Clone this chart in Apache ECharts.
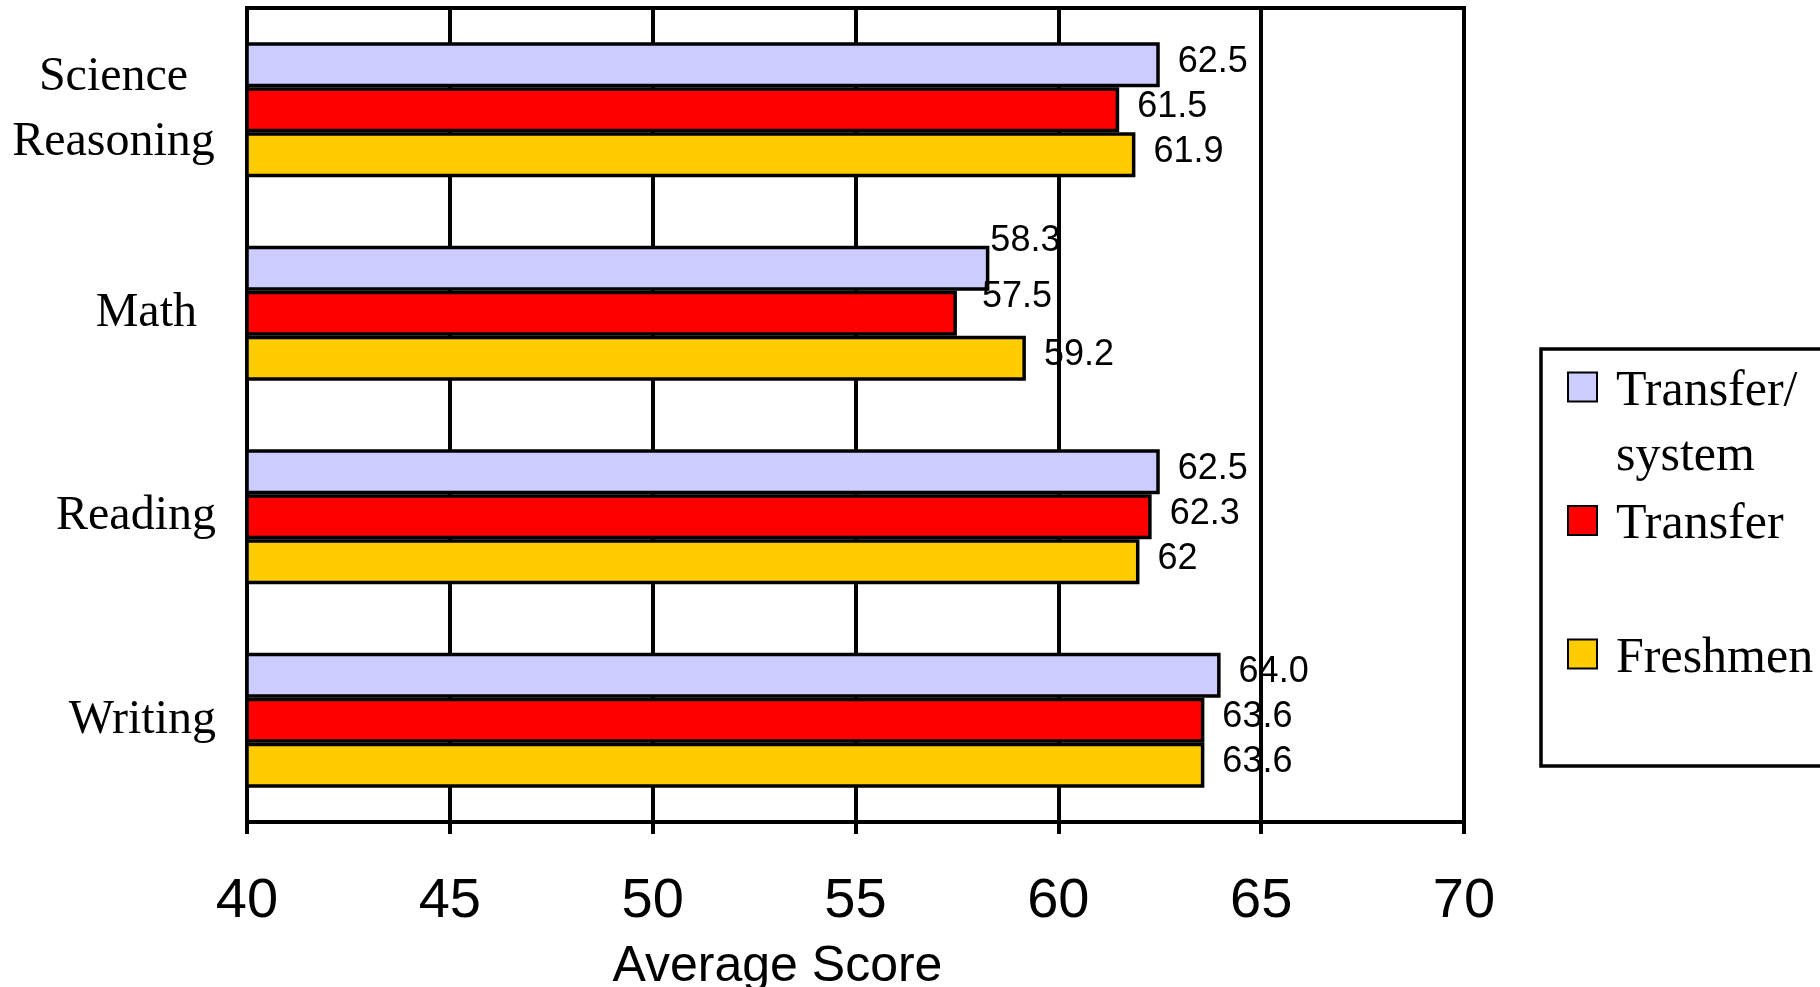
<!DOCTYPE html>
<html>
<head>
<meta charset="utf-8">
<script src="https://cdn.jsdelivr.net/npm/echarts@6/dist/echarts.min.js"></script>
<style>
  html, body { margin: 0; padding: 0; background: #fff; }
  #chart { width: 1820px; height: 987px; }
</style>
</head>
<body>
<div id="chart"></div>
<script>
// Test areas, top to bottom
const categories = ['Science\nReasoning', 'Math', 'Reading', 'Writing'];

// Series names as shown in the legend
const seriesNames = ['Transfer/system', 'Transfer', 'Freshmen'];

// Average scores per group (kept as printed on the labels)
const transferSystemScores = ['62.5', '58.3', '62.5', '64.0'];
const transferScores = ['61.5', '57.5', '62.3', '63.6'];
const freshmenScores = ['61.9', '59.2', '62', '63.6'];

// Score axis range
const scoreMin = 40;
const scoreMax = 70;
const scoreStep = 5;

const seriesColors = ['#CCCCFF', '#FF0000', '#FFCC00'];
const seriesScores = [transferSystemScores, transferScores, freshmenScores];

// Hand-placed nudges for labels that would otherwise collide (series index -> category index -> offset)
const labelNudges = {
  0: { 1: [-17, -27] },
  1: { 1: [7, -16] }
};

// Legend text: a taller blank line on top keeps the swatch level with the first line
const legendText = {
  'Transfer/system': '{b| }\n{t|Transfer/}\n{t|system}',
  'Transfer': '{b| }\n{t|Transfer}\n{t| }',
  'Freshmen': '{b| }\n{t|Freshmen}\n{t| }'
};

const serif = 'Liberation Serif, Times New Roman, serif';
const sans = 'Liberation Sans, Arial, sans-serif';

const chart = echarts.init(document.getElementById('chart'), null, { renderer: 'canvas' });

const series = seriesNames.map(function (name, si) {
  const labels = seriesScores[si];
  return {
    name: name,
    type: 'bar',
    barWidth: 45,
    barGap: '0%',
    itemStyle: { color: seriesColors[si], borderColor: '#000', borderWidth: 3.5 },
    label: {
      show: true,
      position: 'right',
      distance: 18,
      offset: [0, -3],
      color: '#000',
      fontFamily: sans,
      fontSize: 36,
      formatter: function (p) { return labels[p.dataIndex]; }
    },
    data: labels.map(function (s, ci) {
      const item = { value: Number(s) };
      const nudge = labelNudges[si] && labelNudges[si][ci];
      if (nudge) item.label = { offset: nudge };
      return item;
    })
  };
});

chart.setOption({
  animation: false,
  backgroundColor: '#fff',
  grid: {
    left: 247, right: 356, top: 8, bottom: 165,
    containLabel: false,
    outerBoundsMode: 'none',
    show: true, borderColor: '#000', borderWidth: 4, backgroundColor: 'transparent'
  },
  legend: {
    orient: 'vertical',
    left: 1567,
    top: 297,
    padding: 0,
    itemGap: -51,
    itemWidth: 29,
    itemHeight: 29,
    icon: 'rect',
    data: seriesNames,
    formatter: function (name) { return legendText[name]; },
    textStyle: {
      fontFamily: serif,
      fontSize: 50,
      color: '#000',
      padding: [0, 0, 0, 14],
      rich: {
        b: { fontFamily: serif, fontSize: 50, lineHeight: 74 },
        t: { fontFamily: serif, fontSize: 50, lineHeight: 65 }
      }
    }
  },
  graphic: [{
    type: 'rect',
    shape: { x: 1541, y: 349, width: 400, height: 417 },
    style: { fill: 'none', stroke: '#000', lineWidth: 3.5 },
    z: -1
  }],
  xAxis: {
    type: 'value',
    min: scoreMin,
    max: scoreMax,
    interval: scoreStep,
    name: 'Average Score',
    nameLocation: 'middle',
    nameGap: 120,
    nameTextStyle: {
      fontFamily: sans,
      fontSize: 50,
      color: '#000',
      padding: [0, 156, 0, 0]
    },
    axisLine: { show: true, lineStyle: { color: '#000', width: 4 } },
    axisTick: { show: true, length: 12, lineStyle: { color: '#000', width: 4 } },
    axisLabel: {
      margin: 52,
      fontFamily: sans,
      fontSize: 56,
      color: '#000'
    },
    splitLine: { show: true, lineStyle: { color: '#000', width: 4 } }
  },
  yAxis: {
    type: 'category',
    inverse: true,
    data: categories,
    axisLine: { show: true, lineStyle: { color: '#000', width: 4 } },
    axisTick: { show: false },
    axisLabel: {
      margin: 31,
      fontFamily: serif,
      fontSize: 48,
      lineHeight: 65,
      color: '#000',
      formatter: function (v) {
        if (v.indexOf('\n') >= 0) {
          return v.split('\n').map(function (line) { return '{c|' + line + '}'; }).join('\n');
        }
        if (v === 'Math') return '{m|' + v + '}';
        return v;
      },
      rich: {
        c: { width: 205, align: 'center', fontSize: 48, lineHeight: 65, fontFamily: serif },
        m: { padding: [0, 19, 0, 0], fontSize: 48, fontFamily: serif }
      }
    }
  },
  series: series
});
</script>
</body>
</html>
